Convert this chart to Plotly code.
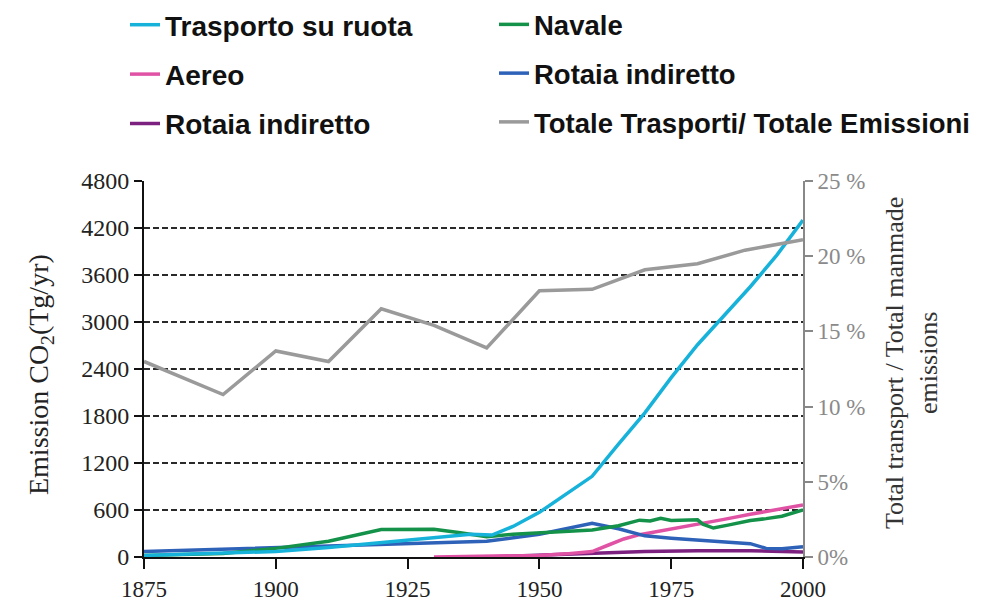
import plotly.graph_objects as go

# ---- data ----
road_years = [1875, 1900, 1910, 1920, 1930, 1937, 1941, 1945, 1950, 1955, 1960, 1965, 1970, 1975, 1980, 1985, 1990, 1995, 2000]
road_vals = [20, 70, 120, 180, 250, 290, 280, 390, 570, 800, 1030, 1440, 1840, 2290, 2710, 3080, 3450, 3850, 4300]

ship_years = [1875, 1890, 1900, 1910, 1920, 1930, 1935, 1940, 1945, 1950, 1960, 1965, 1969, 1971, 1973, 1975, 1977, 1980, 1981, 1983, 1986, 1990, 1993, 1996, 2000]
ship_vals = [20, 45, 110, 200, 350, 355, 310, 260, 290, 310, 345, 400, 470, 460, 495, 465, 470, 475, 420, 370, 410, 465, 490, 520, 600]

air_years = [1930, 1940, 1950, 1955, 1960, 1963, 1966, 1969, 1975, 1980, 1985, 1990, 1995, 2000]
air_vals = [0, 5, 20, 40, 70, 150, 230, 285, 355, 415, 480, 545, 605, 665]

rail_blue_years = [1875, 1900, 1920, 1930, 1935, 1940, 1950, 1960, 1965, 1970, 1975, 1980, 1985, 1990, 1993, 1996, 2000]
rail_blue_vals = [70, 120, 160, 190, 200, 200, 290, 430, 360, 270, 240, 220, 200, 170, 110, 105, 130]

rail_purple_years = [1940, 1950, 1960, 1970, 1980, 1990, 2000]
rail_purple_vals = [0, 25, 50, 70, 80, 80, 65]

share_years = [1875, 1890, 1900, 1910, 1920, 1930, 1940, 1950, 1960, 1970, 1980, 1989, 2000]
share_vals = [13.0, 10.8, 13.7, 13.0, 16.5, 15.4, 13.9, 17.7, 17.8, 19.1, 19.5, 20.4, 21.1]

left_ticks = [0, 600, 1200, 1800, 2400, 3000, 3600, 4200, 4800]
right_ticks = [0, 5, 10, 15, 20, 25]
right_labels = ["0%", "5%", "10 %", "15 %", "20 %", "25 %"]
x_ticks = [1875, 1900, 1925, 1950, 1975, 2000]

left_title = "Emission CO<sub>2</sub>(Tg/yr)"
right_title = "Total transport / Total manmade<br>emissions"

SERIF = "Liberation Serif, Times New Roman, serif"
SANS = "Liberation Sans, Arial, sans-serif"
LW = 3.5
PLOT_L, PLOT_W = 144, 659

fig = go.Figure()

def add(x, y, name, color, legend, rank, yaxis="y"):
    fig.add_trace(go.Scatter(
        x=x, y=y, name=name, mode="lines",
        line=dict(color=color, width=LW),
        legend=legend, legendgroup=name + legend, legendrank=rank, yaxis=yaxis,
    ))

add(rail_purple_years, rail_purple_vals, "Rotaia indiretto", "#7d2180", "legend", 3)
add(air_years, air_vals, "Aereo", "#e052a4", "legend", 2)
add(rail_blue_years, rail_blue_vals, "Rotaia indiretto", "#2e62b8", "legend2", 2)
add(ship_years, ship_vals, "Navale", "#14924a", "legend2", 1)
add(road_years, road_vals, "Trasporto su ruota", "#17b2d9", "legend", 1)
add(share_years, share_vals, "Totale Trasporti/ Totale Emissioni", "#9a9a9a", "legend2", 3, yaxis="y2")

legend_common = dict(
    xref="container", yref="container", xanchor="left", yanchor="top",
    orientation="v", bgcolor="rgba(0,0,0,0)", borderwidth=0,
    tracegroupgap=10, traceorder="grouped",
)

fig.update_layout(
    width=983, height=608,
    margin=dict(l=144, r=180, t=181, b=51, autoexpand=False),
    paper_bgcolor="white", plot_bgcolor="white",
    showlegend=True,
    legend=dict(x=125 / 983, y=1 + 7 / 608,
                font=dict(family=SANS, size=28, color="#111", weight="bold"),
                **legend_common),
    legend2=dict(x=494 / 983, y=1 + 7 / 608,
                 font=dict(family=SANS, size=27.5, color="#111", weight="bold"),
                 **legend_common),
    xaxis=dict(
        range=[1875, 2000], tickvals=x_ticks, ticktext=[str(v) for v in x_ticks],
        showline=True, linecolor="#111", linewidth=2, ticks="outside", ticklen=10,
        tickwidth=2, tickcolor="#111", showgrid=False, zeroline=False,
        automargin=False,
        tickfont=dict(family=SERIF, size=23, color="#222"),
    ),
    yaxis=dict(
        range=[0, 4800], tickvals=left_ticks, ticktext=[str(v) for v in left_ticks],
        showline=True, linecolor="#111", linewidth=2, ticks="outside", ticklen=8,
        tickwidth=2, tickcolor="#111", showgrid=True, gridcolor="#2a2a2a",
        griddash="6px,3px", gridwidth=2, zeroline=False, automargin=False,
        tickfont=dict(family=SERIF, size=24, color="#222"),
    ),
    yaxis2=dict(
        range=[0, 25], tickvals=right_ticks, ticktext=right_labels,
        overlaying="y", side="right", showline=True, linecolor="#888",
        linewidth=2, ticks="outside", ticklen=8, tickwidth=2, tickcolor="#888",
        showgrid=False, zeroline=False, automargin=False,
        tickfont=dict(family=SERIF, size=23, color="#8a8a8a"),
    ),
    annotations=[
        dict(text=left_title, xref="paper", yref="paper",
             x=(40 - PLOT_L) / PLOT_W, y=0.484, xanchor="center", yanchor="middle",
             textangle=-90, showarrow=False,
             font=dict(family=SERIF, size=28, color="#222")),
        dict(text=right_title, xref="paper", yref="paper",
             x=(912 - PLOT_L) / PLOT_W, y=0.516, xanchor="center", yanchor="middle",
             textangle=-90, showarrow=False,
             font=dict(family=SERIF, size=26, color="#333")),
    ],
)

fig.write_html("out.html", config={"displayModeBar": False},
               post_script="document.body.style.margin='0';")
